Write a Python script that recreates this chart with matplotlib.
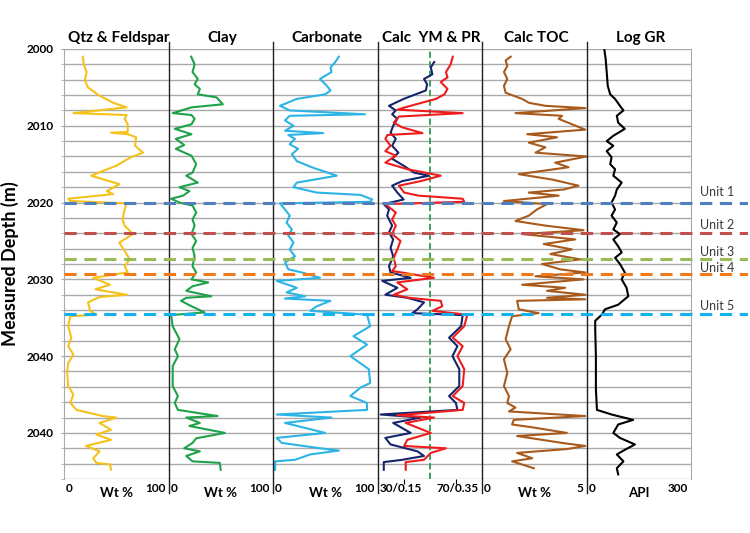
import matplotlib
matplotlib.use('Agg')
import matplotlib.pyplot as plt
from matplotlib.lines import Line2D
from matplotlib.ticker import FixedLocator, MultipleLocator

plt.rcParams['font.family'] = ['Lato', 'DejaVu Sans']

# ---------------- data ----------------
track_titles = ['Qtz & Feldspar', 'Clay', 'Carbonate', 'Calc  YM & PR', 'Calc TOC', 'Log GR']
track_units = ['Wt %', 'Wt %', 'Wt %', '', 'Wt %', 'API']
track_min_labels = ['0', '0', '0', '30/0.15', '0', '0']
track_max_labels = ['100', '100', '100', '70/0.35', '5', '300']
track_limits = [(0, 100), (0, 100), (0, 100), (30, 70), (0, 5), (0, 300)]
pr_limits = (0.15, 0.35)
ym_reference = 50

depth_range = (2000, 2056)
depth_ticks = [2000, 2010, 2020, 2030, 2040, 2050]
depth_tick_labels = ['2000', '2010', '2020', '2030', '2040', '2040']

unit_names = ['Unit 1', 'Unit 2', 'Unit 3', 'Unit 4', 'Unit 5']
unit_depths = [2020.0, 2023.9, 2027.3, 2029.3, 2034.5]

qtz_depth = [2001.0, 2002.0, 2003.0, 2004.1, 2005.0, 2006.0, 2007.0, 2007.6, 2008.35, 2008.6, 2009.1, 2009.8,
             2010.8, 2010.9, 2011.1, 2011.5, 2012.6, 2013.5, 2014.1, 2015.2, 2016.5, 2017.6, 2018.5, 2018.9,
             2019.5, 2019.8, 2020.1, 2020.9, 2022.2, 2023.0, 2024.1, 2025.2, 2026.3, 2027.4, 2028.3, 2029.1,
             2029.8, 2030.7, 2031.3, 2032.0, 2032.3, 2033.0, 2034.1, 2034.6, 2034.8, 2036.1, 2037.6, 2038.7,
             2039.8, 2040.9, 2042.2, 2043.9, 2045.0, 2046.1, 2047.0, 2047.8, 2048.0, 2048.7, 2049.6, 2050.2,
             2050.9, 2051.7, 2052.4, 2053.3, 2053.9, 2054.1, 2054.8]
qtz_val = [18, 19, 21.6, 20, 23, 33, 47, 60, 9, 60, 58, 61,
           61, 45, 61, 69, 68, 75.6, 64, 50, 26, 53, 41, 47,
           4, 6, 60, 58, 56, 58, 66, 53, 58, 63, 58, 61,
           28, 44, 30, 60, 34, 23, 25, 31, 6, 4, 7, 4,
           9, 4, 3, 4, 9, 6, 12, 37, 50, 34, 45, 31,
           45, 21, 34, 28, 31, 44, 45]

clay_depth = [2001.0, 2002.0, 2003.0, 2003.9, 2004.6, 2005.2, 2005.9, 2006.3, 2007.2, 2007.6, 2008.35, 2008.6,
              2009.1, 2009.8, 2010.4, 2011.1, 2011.7, 2012.5, 2013.0, 2013.9, 2015.0, 2016.1, 2016.5, 2017.4,
              2018.0, 2018.5, 2019.1, 2019.5, 2020.0, 2020.4, 2021.3, 2022.2, 2023.0, 2024.1, 2025.0, 2025.9,
              2027.0, 2028.3, 2029.1, 2030.0, 2030.4, 2030.9, 2031.5, 2032.2, 2032.4, 2032.8, 2033.5, 2034.3,
              2034.65, 2036.1, 2037.8, 2039.1, 2040.0, 2041.3, 2043.9, 2045.2, 2046.1, 2047.0, 2047.8, 2048.0,
              2048.7, 2049.1, 2050.0, 2050.7, 2051.3, 2052.0, 2052.4, 2053.0, 2053.7, 2053.9, 2054.8]
clay_val = [21.7, 25, 23, 28, 25, 30, 28, 46, 52, 22, 4, 22,
            25, 22, 6, 22, 7, 15, 7, 22, 26.5, 23, 17, 28,
            10.5, 20, 14, 2.5, 10.5, 23, 26.5, 23, 25, 22, 26.5, 23,
            25, 23, 26.5, 22, 38, 23, 17, 41, 17, 12, 22, 34.5,
            2.5, 4, 10.5, 6, 9, 4, 4, 9, 6, 9, 47, 17,
            30, 20, 54, 26.5, 23, 15, 30, 17, 23, 49, 50]

carb_depth = [2001.0, 2001.7, 2002.4, 2003.0, 2003.9, 2004.8, 2005.4, 2005.9, 2006.5, 2007.4, 2008.0, 2008.5,
              2008.7, 2009.3, 2010.0, 2010.65, 2010.95, 2011.2, 2011.7, 2012.4, 2013.0, 2013.7, 2014.6, 2015.4,
              2016.5, 2017.4, 2018.0, 2018.7, 2019.0, 2019.6, 2019.9, 2020.1, 2020.9, 2021.7, 2022.6, 2023.5,
              2024.3, 2025.2, 2026.1, 2027.0, 2027.8, 2028.7, 2029.1, 2029.8, 2030.2, 2031.1, 2031.7, 2032.2,
              2032.5, 2032.8, 2033.5, 2034.1, 2034.6, 2036.1, 2037.4, 2038.5, 2040.0, 2041.7, 2043.5, 2044.1,
              2045.2, 2046.1, 2047.0, 2047.6, 2048.0, 2048.7, 2050.0, 2050.65, 2051.3, 2052.0, 2052.3, 2052.8,
              2053.5, 2053.7, 2054.8]
carb_val = [63, 59.6, 55, 56, 45, 51.6, 55, 50, 22.8, 6.7, 16, 88,
            16, 11.5, 19.6, 11.5, 48, 14.7, 21, 16, 24, 18, 22.8, 37,
            61, 22.8, 19.6, 42, 83.7, 95, 93, 6.7, 11.5, 16, 13, 18,
            14.7, 19.6, 16, 21, 11.5, 14.7, 27.6, 45, 3.5, 22.8, 13, 30.8,
            11.5, 55, 42, 35.6, 90, 93, 77, 90, 74, 91.7, 93, 83.7,
            74, 90, 90, 3.5, 56, 11.5, 50, 3.5, 8.3, 45, 63, 35.6,
            21, 2, 2]

ym_depth = [2001.7, 2002.4, 2003.3, 2003.9, 2004.6, 2005.4, 2006.5, 2007.4, 2008.0, 2008.5, 2009.1, 2010.0,
            2010.9, 2011.7, 2012.6, 2013.5, 2014.3, 2015.2, 2016.1, 2016.5, 2017.2, 2017.8, 2018.7, 2019.6,
            2020.2, 2020.9, 2021.7, 2023.0, 2023.9, 2024.8, 2025.9, 2027.0, 2028.3, 2029.1, 2029.8, 2030.2,
            2031.1, 2032.0, 2032.4, 2033.0, 2033.9, 2034.4, 2034.65, 2036.1, 2037.6, 2038.7, 2040.0, 2041.7,
            2043.9, 2045.2, 2046.1, 2047.0, 2047.6, 2048.0, 2048.7, 2050.0, 2050.65, 2051.5, 2052.4, 2053.0,
            2053.5, 2053.8, 2054.8]
ym_val = [51.7, 50.4, 51, 47.8, 49, 48.5, 40, 34.4, 37, 35.6, 37.6, 36,
          35, 37, 35.6, 38, 35.6, 40, 44, 49.7, 39.5, 35.6, 37.6, 40,
          32.4, 34.4, 33.7, 35.6, 34.4, 36, 35, 36, 34.4, 35, 42.7, 31.8,
          37.6, 33, 41.4, 47.8, 45.3, 43.3, 62.6, 62, 57.4, 60.6, 58.7, 61.3,
          61.3, 57.4, 60, 60.6, 31.2, 46.5, 36, 42.7, 33, 35, 45.3, 47.8,
          39.5, 32.4, 32.4]

pr_depth = [2001.0, 2002.0, 2003.0, 2003.7, 2004.3, 2005.2, 2005.9, 2006.5, 2007.4, 2007.9, 2008.35, 2008.8,
            2009.6, 2010.2, 2010.95, 2011.2, 2011.7, 2012.6, 2013.3, 2013.9, 2014.8, 2015.65, 2016.5, 2017.2,
            2017.8, 2018.7, 2019.1, 2019.5, 2019.9, 2020.2, 2021.3, 2022.2, 2023.0, 2024.1, 2025.0, 2026.1,
            2027.2, 2028.3, 2028.9, 2029.8, 2030.4, 2031.3, 2032.0, 2032.4, 2032.8, 2033.5, 2034.1, 2034.6,
            2036.1, 2037.6, 2038.7, 2040.0, 2041.7, 2043.9, 2045.2, 2046.1, 2047.0, 2047.7, 2048.0, 2048.7,
            2050.0, 2050.9, 2051.7, 2052.0, 2052.6, 2053.5, 2053.8, 2054.8]
pr_val = [0.294, 0.290, 0.281, 0.284, 0.271, 0.284, 0.278, 0.262, 0.213, 0.188, 0.313, 0.191,
          0.181, 0.197, 0.236, 0.169, 0.165, 0.175, 0.165, 0.185, 0.165, 0.207, 0.271, 0.233,
          0.191, 0.201, 0.229, 0.313, 0.316, 0.165, 0.185, 0.178, 0.185, 0.178, 0.194, 0.188,
          0.181, 0.185, 0.178, 0.258, 0.188, 0.207, 0.181, 0.210, 0.271, 0.274, 0.255, 0.322,
          0.316, 0.294, 0.313, 0.303, 0.316, 0.313, 0.294, 0.316, 0.313, 0.188, 0.258, 0.204,
          0.252, 0.207, 0.201, 0.281, 0.252, 0.239, 0.204, 0.204]

toc_depth = [2001.0, 2001.5, 2002.2, 2003.0, 2003.9, 2004.8, 2005.7, 2006.5, 2007.0, 2007.4, 2007.7, 2008.35,
             2008.7, 2009.1, 2009.8, 2010.5, 2011.1, 2011.5, 2012.2, 2012.8, 2013.5, 2014.0, 2014.8, 2015.4,
             2016.3, 2017.0, 2017.8, 2018.3, 2018.7, 2019.1, 2019.8, 2020.2, 2020.9, 2021.7, 2022.4, 2023.0,
             2023.6, 2024.1, 2024.8, 2025.4, 2026.1, 2026.7, 2027.4, 2028.0, 2028.7, 2029.1, 2029.6, 2030.0,
             2030.7, 2031.1, 2031.5, 2032.0, 2032.4, 2032.6, 2032.8, 2033.9, 2034.4, 2034.8, 2036.1, 2037.8,
             2039.1, 2040.4, 2042.2, 2043.9, 2045.2, 2046.1, 2046.7, 2047.2, 2047.8, 2048.3, 2048.9, 2049.3,
             2050.0, 2050.4, 2051.3, 2051.7, 2052.1, 2052.6, 2053.3, 2053.7, 2054.6]
toc_val = [1.37, 1.13, 1.21, 1.05, 1.21, 1.05, 1.13, 1.92, 2.24, 3.03, 4.94, 1.6,
           3.83, 3.67, 4.3, 4.94, 2.16, 3.59, 2.24, 3.03, 2.56, 5.0, 3.5, 4.14,
           1.76, 3.35, 4.62, 3.9, 2.24, 3.67, 1.05, 3.11, 2.63, 2.24, 1.6, 3.03,
           4.86, 1.92, 4.46, 2.95, 4.3, 3.27, 4.7, 2.87, 3.75, 4.94, 2.56, 4.86,
           1.92, 3.98, 3.11, 4.94, 3.11, 4.94, 1.68, 1.76, 2.71, 1.44, 1.29, 1.13,
           1.37, 1.05, 1.21, 1.05, 1.29, 1.21, 1.6, 1.29, 4.94, 1.52, 1.44, 2.48,
           4.06, 1.68, 3.83, 4.94, 4.06, 1.68, 2.4, 1.44, 2.48]

gr_depth = [2000.0, 2001.3, 2003.0, 2004.8, 2005.9, 2006.5, 2007.4, 2008.0, 2008.7, 2009.6, 2010.4, 2011.3,
            2012.0, 2012.6, 2013.3, 2014.1, 2015.0, 2015.65, 2016.5, 2017.4, 2018.3, 2019.1, 2020.0, 2020.9,
            2021.7, 2022.6, 2023.5, 2024.1, 2024.8, 2025.7, 2026.5, 2027.2, 2028.0, 2029.1, 2030.0, 2031.1,
            2032.2, 2033.3, 2033.9, 2034.6, 2035.4, 2036.5, 2040.0, 2044.3, 2047.0, 2047.6, 2048.3, 2048.9,
            2050.0, 2050.65, 2051.5, 2052.2, 2052.8, 2053.7, 2054.6, 2055.4]
gr_val = [51, 55, 58, 61, 68, 82, 96, 106, 87, 91, 110, 77,
          58, 77, 58, 72, 68, 82, 77, 101, 87, 82, 72, 82,
          72, 87, 77, 96, 77, 91, 101, 82, 96, 110, 101, 115,
          120, 91, 53, 44, 25, 25, 27, 27, 30, 72, 134, 91,
          77, 96, 139, 110, 87, 106, 87, 91]

# ---------------- styles / layout ----------------
unit_colors = ['#4F7FBF', '#C0504D', '#9BBB59', '#F07B1F', '#12B2EE']
unit_label_offset = [1.4, 1.0, 0.9, 0.8, 1.0]
curve_colors = {'qtz': '#F5C21B', 'clay': '#1FA24A', 'carb': '#2BB4E4',
                'ym': '#15246C', 'pr': '#EE1C1C', 'toc': '#A85A1C', 'gr': '#000000'}

W, H = 750, 533
fig = plt.figure(figsize=(W / 100, H / 100), dpi=100)

def fx(x):
    return x / W

def fy(y):
    return 1 - y / H

left0, track_w, top, bottom = 64, 104.5, 49, 479
grid_color = '#A9A9A9'

axes = []
for i in range(6):
    ax = fig.add_axes([fx(left0 + i * track_w), fy(bottom), fx(track_w), (bottom - top) / H])
    ax.set_xlim(*track_limits[i])
    ax.set_ylim(depth_range[1], depth_range[0])
    ax.yaxis.set_major_locator(FixedLocator(depth_ticks))
    ax.yaxis.set_minor_locator(MultipleLocator(2))
    ax.grid(axis='y', which='both', color=grid_color, lw=1.0)
    ax.set_axisbelow(True)
    ax.tick_params(axis='x', bottom=False, labelbottom=False)
    ax.tick_params(axis='y', which='both', left=False, labelleft=False)
    for s in ax.spines.values():
        s.set_visible(False)
    ax.patch.set_alpha(0)
    axes.append(ax)

ax0 = axes[0]
ax0.spines['left'].set_visible(True)
ax0.spines['left'].set_color(grid_color)
ax0.tick_params(axis='y', which='both', left=True, length=2.5, color=grid_color)
ax0.tick_params(axis='y', which='major', labelleft=True, pad=5, labelsize=8.5)
ax0.set_yticklabels(depth_tick_labels, fontweight='bold')
axes[5].spines['right'].set_visible(True)
axes[5].spines['right'].set_color(grid_color)

lw = 1.5
axes[0].plot(qtz_val, qtz_depth, color=curve_colors['qtz'], lw=lw)
axes[1].plot(clay_val, clay_depth, color=curve_colors['clay'], lw=lw)
axes[2].plot(carb_val, carb_depth, color=curve_colors['carb'], lw=lw)
axes[3].plot(ym_val, ym_depth, color=curve_colors['ym'], lw=lw, zorder=3)
axes[3].axvline(ym_reference, color='#2E9A55', lw=1.3, ls=(0, (3.5, 1.8)), zorder=2)
ax_pr = axes[3].twiny()
ax_pr.set_xlim(*pr_limits)
ax_pr.set_ylim(depth_range[1], depth_range[0])
ax_pr.axis('off')
ax_pr.plot(pr_val, pr_depth, color=curve_colors['pr'], lw=lw, zorder=4)
axes[4].plot(toc_val, toc_depth, color=curve_colors['toc'], lw=lw)
axes[5].plot(gr_val, gr_depth, color=curve_colors['gr'], lw=lw)

# unit marker overlay
ov = fig.add_axes([fx(left0), fy(bottom), fx(748 - left0), (bottom - top) / H])
ov.set_xlim(0, 1)
ov.set_ylim(depth_range[1], depth_range[0])
ov.axis('off')
ov.set_zorder(10)
for name, d, c, off in zip(unit_names, unit_depths, unit_colors, unit_label_offset):
    ov.axhline(d, color=c, lw=2.2, ls=(0, (4, 2.5)))
    ov.text((700 - left0) / (748 - left0), d - off, name, ha='left', va='center',
            fontsize=9, color='#3A3A3A')

# separators
for i in range(1, 6):
    x = fx(left0 + i * track_w)
    fig.add_artist(Line2D([x, x], [fy(42), fy(493)], color='#202020', lw=1.0))

# titles and bottom labels
for i in range(6):
    xl = left0 + i * track_w
    xc = xl + track_w / 2
    fig.text(fx(xc + 2), fy(38), track_titles[i], ha='center', va='center',
             fontsize=11, fontweight='bold')
    fig.text(fx(xl + 2), fy(489), track_min_labels[i], ha='left', va='center',
             fontsize=8.5, fontweight='bold')
    fig.text(fx(xl + track_w - 3), fy(489), track_max_labels[i], ha='right', va='center',
             fontsize=8.5, fontweight='bold')
    if track_units[i]:
        fig.text(fx(xc), fy(493), track_units[i], ha='center', va='center',
                 fontsize=9.5, fontweight='bold')

fig.text(fx(10), fy(264), 'Measured Depth (m)', rotation=90, ha='center', va='center',
         fontsize=13, fontweight='bold')

fig.savefig('out.png', dpi=100)
